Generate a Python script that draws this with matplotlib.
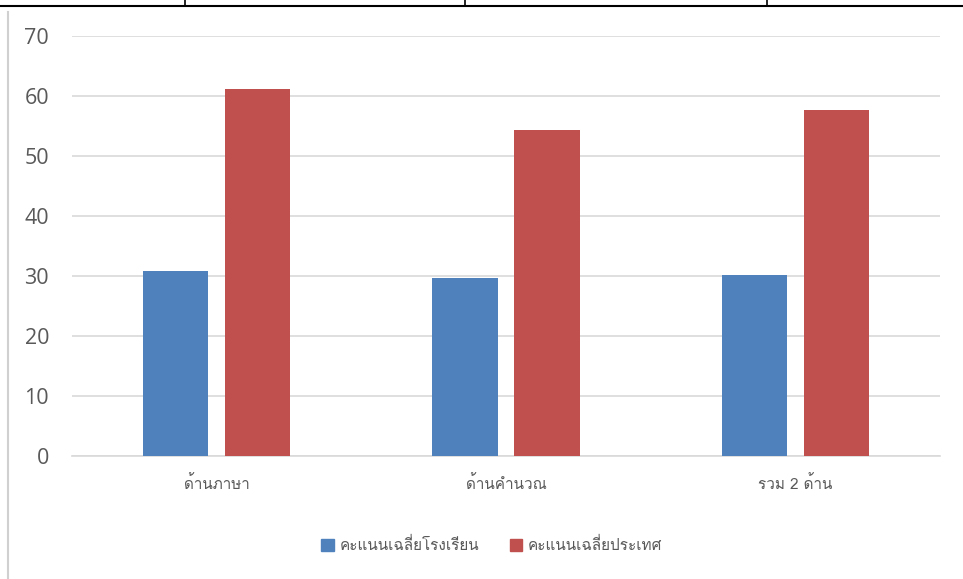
import matplotlib
matplotlib.use("Agg")
import matplotlib.pyplot as plt
from matplotlib import font_manager
from matplotlib.ft2font import FT2Font
from matplotlib.lines import Line2D
from matplotlib.patches import Patch
import numpy as np

categories = ["ด้านภาษา", "ด้านคำนวณ", "รวม 2 ด้าน"]
school = [30.8, 29.7, 30.2]
national = [61.2, 54.3, 57.7]
series_names = ["คะแนนเฉลี่ยโรงเรียน", "คะแนนเฉลี่ยประเทศ"]
yticks = [0, 10, 20, 30, 40, 50, 60, 70]

# find a font with Thai glyphs
thai_family = None
for f in font_manager.fontManager.ttflist:
    try:
        ft = FT2Font(f.fname)
        if ft.get_char_index(0x0E14) and ft.get_char_index(0x0E04):
            thai_family = f.name
            break
    except Exception:
        pass
fams = ([thai_family] if thai_family else []) + ["DejaVu Sans"]
plt.rcParams["font.family"] = fams

fig = plt.figure(figsize=(9.63, 5.79), dpi=100)
ax = fig.add_axes([72/963, 1-456/579, (940-72)/963, (456-36)/579])

x = np.arange(len(categories))
w = 0.226
ax.bar(x - 0.142, school, w, color="#4f81bd", zorder=3)
ax.bar(x + 0.142, national, w, color="#c0504d", zorder=3)

ax.set_xlim(-0.5, 2.5)
ax.set_ylim(0, 70)
ax.set_yticks(yticks)
ax.yaxis.grid(True, color="#d9d9d9", lw=1.2, zorder=0)
for s in ["top", "right", "left"]:
    ax.spines[s].set_visible(False)
ax.spines["bottom"].set_color("#d9d9d9")
ax.spines["bottom"].set_linewidth(1.2)
ax.tick_params(axis="both", length=0)
ax.tick_params(axis="y", pad=16.5, labelcolor="#595959")
for lab in ax.get_yticklabels():
    lab.set_fontfamily(["Open Sans", "DejaVu Sans"])
    lab.set_fontsize(15.5)
ax.set_xticks(x)
ax.set_xticklabels(categories, fontsize=11, color="#595959")
ax.tick_params(axis="x", pad=14)

handles = [Patch(color="#4f81bd"), Patch(color="#c0504d")]
fig.legend(handles, series_names, loc="center", bbox_to_anchor=(492/963, 1-545/579),
           ncol=2, frameon=False, fontsize=11, labelcolor="#595959",
           handlelength=0.8, handleheight=0.8, handletextpad=0.4, columnspacing=2.0)

# table-cell frame artifacts
fig.add_artist(Line2D([0, 1], [1-6/579, 1-6/579], color="black", lw=1.5, transform=fig.transFigure))
for xp in [185, 465, 767]:
    fig.add_artist(Line2D([xp/963, xp/963], [1, 1-6/579], color="black", lw=1.2, transform=fig.transFigure))
fig.add_artist(Line2D([8/963, 8/963], [1-12/579, 0], color="#d0d0d0", lw=1.5, transform=fig.transFigure))

fig.savefig("out.png", dpi=100)
